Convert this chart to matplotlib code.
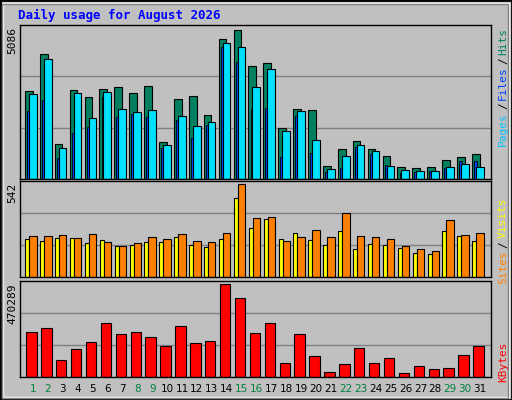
import numpy as np
import matplotlib.pyplot as plt
from matplotlib.patches import Rectangle

days = np.arange(1, 32)
hits_max, visits_max, kb_max = 5086, 542, 470289
hits = [.593, .844, .233, .6, .552, .606, .62, .579, .627, .247, .538, .559, .43, .939, 1.0, .762,
        .783, .342, .471, .464, .09, .2, .253, .2, .152, .084, .077, .084, .131, .145, .165]
files = [.572, .81, .206, .579, .41, .586, .471, .45, .464, .226, .423, .355, .382, .912, .885, .62,
         .742, .321, .457, .26, .07, .152, .226, .186, .09, .063, .057, .057, .084, .104, .084]
pages = [.457, .532, .138, .308, .348, .552, .416, .437, .416, .206, .396, .274, .362, .891, .79, .471,
         .477, .145, .423, .172, .05, .077, .213, .165, .097, .043, .05, .057, .077, .118, .124]
visits = [.438, .446, .457, .424, .467, .38, .337, .37, .435, .413, .467, .391, .38, .478, 1.0, .641,
          .652, .391, .435, .511, .435, .696, .446, .435, .413, .337, .304, .283, .62, .457, .478]
sites = [.413, .391, .424, .424, .37, .402, .337, .348, .38, .38, .435, .348, .326, .413, .848, .533,
         .63, .413, .478, .402, .348, .5, .304, .359, .348, .315, .261, .25, .5, .446, .391]
kbytes = [.484, .527, .187, .297, .374, .582, .462, .484, .429, .33, .549, .363, .385, 1.0, .857, .473,
          .582, .154, .462, .231, .055, .143, .308, .154, .209, .044, .121, .088, .099, .242, .33]
weekend = [1, 2, 8, 9, 15, 16, 22, 23, 29, 30]

hits = np.array(hits) * hits_max
files = np.array(files) * hits_max
pages = np.array(pages) * hits_max
visits = np.array(visits) * visits_max
sites = np.array(sites) * visits_max
kbytes = np.array(kbytes) * kb_max

bg = '#c0c0c0'
fig = plt.figure(figsize=(5.12, 4), dpi=100, facecolor=bg)
mono = 'DejaVu Sans Mono'

# bevelled frame
fig.patches.append(Rectangle((0, 0), 1, 1, transform=fig.transFigure, fill=False, ec='black', lw=2))
fig.patches.append(Rectangle((0.006, 0.008), 0.988, 0.985, transform=fig.transFigure, fill=False, ec='white', lw=1))
fig.patches.append(Rectangle((0.004, 0.006), 0.988, 0.985, transform=fig.transFigure, fill=False, ec='#808080', lw=1))

fig.text(18 / 512, 1 - 15 / 400, 'Daily usage for August 2026', color='#0000ff', fontsize=9,
         fontweight='bold', family=mono, va='center')


def panel(bottom, height, top_val):
    ax = fig.add_axes([20 / 512, bottom, 471 / 512, height])
    ax.set_facecolor(bg)
    ax.set_xlim(0.13, 31.74)
    ax.set_ylim(0, top_val / 0.965)
    for f in (1 / 3, 2 / 3):
        ax.axhline(top_val / 0.965 * f, color='#808080', lw=1, zorder=0)
    ax.set_xticks([])
    ax.set_yticks([])
    for s in ax.spines.values():
        s.set_color('black')
        s.set_linewidth(1)
    fig.text(12 / 512, bottom + height - 0.005, str(top_val), rotation=90, ha='center', va='top',
             fontsize=8, family=mono)
    return ax


ax1 = panel(1 - 179 / 400, 154 / 400, hits_max)
ax1.bar(days - 0.28, hits, width=0.52, color='#008060', ec='black', lw=0.8)
ax1.bar(days - 0.315, pages, width=0.17, color='#0040ff', ec='black', lw=0.6)
ax1.bar(days - 0.01, files, width=0.52, color='#00e0ff', ec='black', lw=0.8)

ax2 = panel(1 - 277 / 400, 96 / 400, visits_max)
ax2.bar(days - 0.385, sites, width=0.27, color='#ffff00', ec='black', lw=0.8)
ax2.bar(days, visits, width=0.5, color='#ff8000', ec='black', lw=0.8)

ax3 = panel(1 - 377 / 400, 96 / 400, kb_max)
ax3.bar(days - 0.1, kbytes, width=0.7, color='#ff0000', ec='black', lw=0.8)

for d in days:
    fig.text((33 + 14.9 * (d - 1)) / 512, 1 - 389 / 400, str(d), ha='center', va='center', fontsize=7.5,
             color='#008040' if d in weekend else 'black')

renderer = fig.canvas.get_renderer()


def right_label(parts, y_top):
    y = y_top
    for txt, col in reversed(parts):
        t = fig.text(503 / 512, y, txt, rotation=90, ha='center', va='top', fontsize=8,
                     family=mono, color=col)
        h = t.get_window_extent(renderer).height / 400
        y -= h + 0.006


right_label([('Pages', '#00c0ff'), ('/', 'black'), ('Files', '#0040ff'), ('/', 'black'), ('Hits', '#008060')], 1 - 28 / 400)
right_label([('Sites', '#ff8000'), ('/', 'black'), ('Visits', '#ffff00')], 1 - 198 / 400)
right_label([('KBytes', '#ff0000')], 1 - 342 / 400)

fig.savefig('out.png', dpi=100, facecolor=bg)
